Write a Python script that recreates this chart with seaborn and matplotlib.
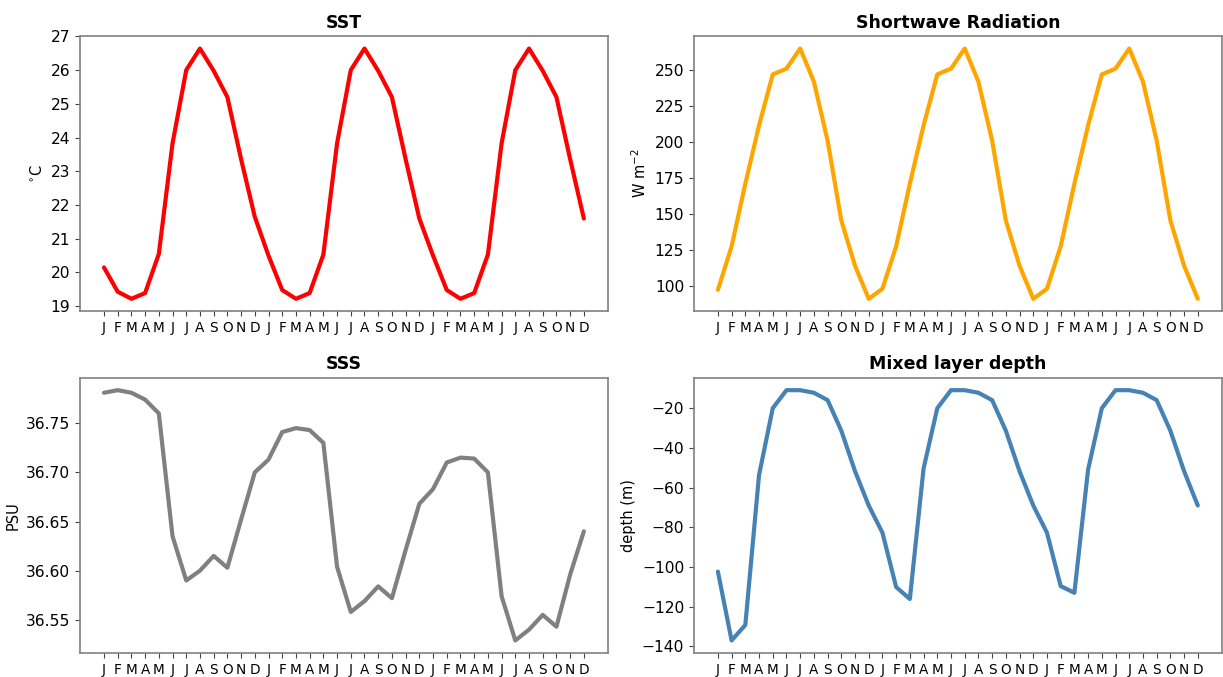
import numpy as np
import pandas as pd
import matplotlib
matplotlib.use("Agg")
import matplotlib.pyplot as plt
from matplotlib.ticker import MultipleLocator
import seaborn as sns

months = ["J", "F", "M", "A", "M", "J", "J", "A", "S", "O", "N", "D"] * 3

sst = [20.15, 19.43, 19.22, 19.39, 20.55, 23.83, 26.0, 26.64, 25.98, 25.2, 23.36, 21.65,
       20.5, 19.48, 19.22, 19.39, 20.53, 23.83, 26.0, 26.64, 25.98, 25.2, 23.36, 21.6,
       20.5, 19.48, 19.22, 19.39, 20.53, 23.83, 26.0, 26.64, 25.98, 25.2, 23.36, 21.6]

swr = [97.2, 127.5, 171, 211.5, 247, 251, 265, 242, 201, 145.5, 114, 91,
       98, 127.5, 171, 211.5, 247, 251, 265, 242, 201, 145.5, 114, 91,
       98, 127.5, 171, 211.5, 247, 251, 265, 242, 201, 145.5, 114, 91]

sss = [36.781, 36.7836, 36.781, 36.774, 36.760, 36.635, 36.590, 36.600, 36.615, 36.603, 36.652, 36.700,
       36.713, 36.741, 36.745, 36.743, 36.730, 36.604, 36.558, 36.569, 36.584, 36.572, 36.621, 36.668,
       36.683, 36.710, 36.715, 36.714, 36.700, 36.574, 36.529, 36.540, 36.555, 36.543, 36.596, 36.640]

mld = [-102.3, -137.0, -129.2, -53.7, -20.0, -10.9, -10.9, -12.2, -15.9, -31.3, -51.7, -69.0,
       -82.7, -110.1, -116.1, -50.4, -20.0, -10.9, -10.9, -12.2, -15.9, -31.3, -51.7, -69.0,
       -82.7, -109.6, -113.0, -50.9, -20.0, -10.9, -10.9, -12.2, -15.9, -31.3, -51.7, -69.0]

panels = [
    ("SST", "$^{\\circ}$C", sst, "red", 1),
    ("Shortwave Radiation", "W m$^{-2}$", swr, "orange", 25),
    ("SSS", "PSU", sss, "grey", 0.05),
    ("Mixed layer depth", "depth (m)", mld, "steelblue", 20),
]

sns.set_style("white")
plt.rcParams["font.family"] = ["DejaVu Sans"]
plt.rcParams["axes.edgecolor"] = "#808080"
plt.rcParams["axes.linewidth"] = 1.2
plt.rcParams["text.color"] = "black"
plt.rcParams["axes.labelcolor"] = "black"
plt.rcParams["xtick.color"] = "black"
plt.rcParams["ytick.color"] = "black"

fig, axes = plt.subplots(2, 2, figsize=(12.23, 6.77), dpi=100)
fig.subplots_adjust(left=0.0654, right=0.999, bottom=0.0355, top=0.9468,
                    wspace=0.163, hspace=0.241)

x = np.arange(len(months))
for ax, (title, ylab, vals, col, step) in zip(axes.flat, panels):
    df = pd.DataFrame({"t": x, "v": vals})
    sns.lineplot(data=df, x="t", y="v", ax=ax, color=col, linewidth=3)
    ax.set_title(title, fontsize=12.5, fontweight="bold", color="black")
    ax.set_ylabel(ylab, fontsize=10.5)
    ax.set_xlabel("")
    ax.set_xticks(x)
    ax.set_xticklabels(months)
    ax.yaxis.set_major_locator(MultipleLocator(step))
    ax.tick_params(axis="y", labelsize=11.2, left=True, length=3.5, color="#444444")
    ax.tick_params(axis="x", labelsize=9.8, bottom=True, length=3.5, color="#444444")
    for s in ax.spines.values():
        s.set_visible(True)

fig.savefig("out.png", dpi=100)
